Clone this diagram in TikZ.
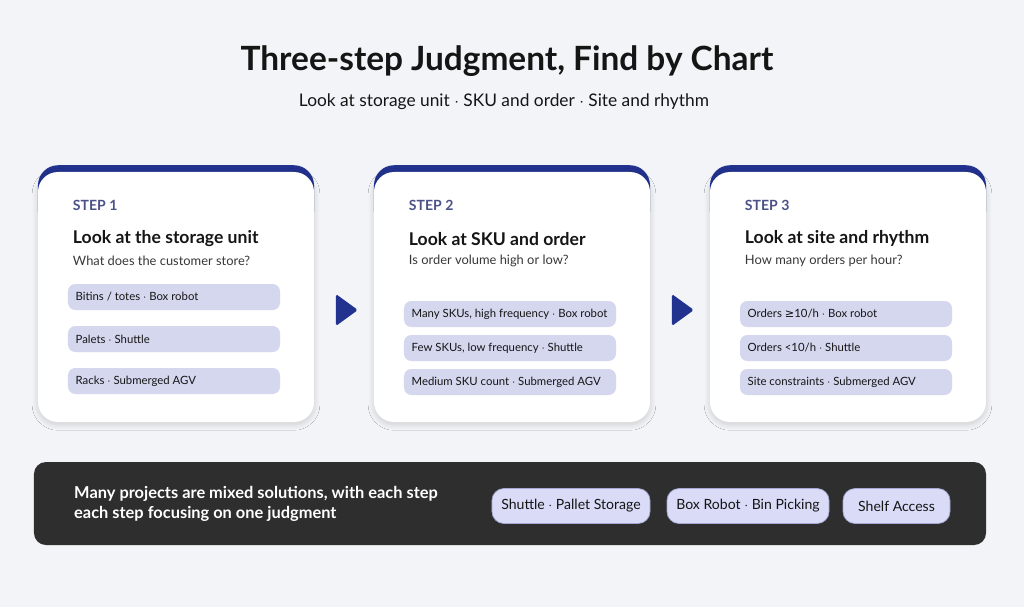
\documentclass[tikz,border=0pt]{standalone}
\usepackage{fontspec}
\setmainfont{Lato}
\newfontfamily\symfont{DejaVu Sans}
\usetikzlibrary{positioning,calc,shapes.geometric,shadows.blur}

\definecolor{pagebg}{HTML}{F3F4F7}
\definecolor{stepblue}{HTML}{22328F}
\definecolor{steplabel}{HTML}{4B5189}
\definecolor{pillfill}{HTML}{D5D7EF}
\definecolor{darkbar}{HTML}{2E2E2E}
\definecolor{chipfill}{HTML}{D9DBF7}
\definecolor{chipline}{HTML}{A3A7D2}
\definecolor{inktext}{HTML}{151515}

\tikzset{
  card/.style={fill=white, rounded corners=0.6cm, minimum width=8.28cm, minimum height=7.5cm,
    blur shadow={shadow xshift=0pt, shadow yshift=-2pt, shadow blur radius=5pt, shadow opacity=16, shadow blur steps=12}},
  accent/.style={fill=stepblue, rounded corners=0.6cm, minimum width=8.28cm, minimum height=2cm, anchor=north},
  steptag/.style={anchor=west, inner sep=0pt, text=steplabel, font=\fontsize{12}{14}\selectfont\bfseries},
  cardtitle/.style={anchor=west, inner sep=0pt, text=inktext, font=\fontsize{15}{18}\selectfont\bfseries},
  cardsub/.style={anchor=west, inner sep=0pt, text=inktext!85, font=\fontsize{11}{13}\selectfont},
  pill/.style={fill=pillfill, rounded corners=0.22cm, minimum height=0.78cm, text width=5.9cm,
    inner xsep=0.23cm, align=flush left, text=inktext, font=\fontsize{9.7}{12}\selectfont},
  nextarrow/.style={isosceles triangle, isosceles triangle apex angle=72, fill=stepblue,
    rounded corners=1.5pt, minimum size=0.66cm, inner sep=0pt},
  chip/.style={fill=chipfill, draw=chipline, line width=0.6pt, rounded corners=0.36cm,
    minimum height=1.05cm, inner xsep=0.28cm, text=inktext, font=\fontsize{12}{14}\selectfont}
}

\begin{document}
\begin{tikzpicture}[x=0.03cm, y=-0.03cm]
  % page
  \fill[pagebg] (0,0) rectangle (1024,607);

  % heading
  \node[font=\fontsize{28.5}{32}\selectfont\bfseries, text=inktext] (title) at (507,61) {Three-step Judgment, Find by Chart};
  \node[font=\fontsize{14.8}{17}\selectfont, text=inktext] (subtitle) at (504,102) {Look at storage unit $\cdot$ SKU and order $\cdot$ Site and rhythm};

  % step cards
  \node[accent] (acc1) at (176,165) {};
  \node[accent] (acc2) at (512,165) {};
  \node[accent] (acc3) at (848,165) {};
  \node[card] (card1) at (176,297) {};
  \node[card] (card2) at (512,297) {};
  \node[card] (card3) at (848,297) {};

  \node[steptag] (tag1) at ($(card1.north west)+(35,34)$) {STEP 1};
  \node[steptag] (tag2) at ($(card2.north west)+(35,34)$) {STEP 2};
  \node[steptag] (tag3) at ($(card3.north west)+(35,34)$) {STEP 3};

  \node[cardtitle] (head1) at ($(card1.north west)+(35,67)$) {Look at the storage unit};
  \node[cardtitle] (head2) at ($(card2.north west)+(35,67)$) {Look at SKU and order};
  \node[cardtitle] (head3) at ($(card3.north west)+(35,67)$) {Look at site and rhythm};

  \node[cardsub] (ask1) at ($(card1.north west)+(35,89)$) {What does the customer store?};
  \node[cardsub] (ask2) at ($(card2.north west)+(35,89)$) {Is order volume high or low?};
  \node[cardsub] (ask3) at ($(card3.north west)+(35,89)$) {How many orders per hour?};

  % options per step
  \node[pill] (opt11) at (174,297) {Bitins / totes $\cdot$ Box robot};
  \node[pill] (opt12) at (174,339) {Palets $\cdot$ Shuttle};
  \node[pill] (opt13) at (174,381) {Racks $\cdot$ Submerged AGV};

  \node[pill] (opt21) at (510,314) {Many SKUs, high frequency $\cdot$ Box robot};
  \node[pill] (opt22) at (510,348) {Few SKUs, low frequency $\cdot$ Shuttle};
  \node[pill] (opt23) at (510,382) {Medium SKU count $\cdot$ Submerged AGV};

  \node[pill] (opt31) at (846,314) {Orders {\symfont ≥}10/h $\cdot$ Box robot};
  \node[pill] (opt32) at (846,348) {Orders <10/h $\cdot$ Shuttle};
  \node[pill] (opt33) at (846,382) {Site constraints $\cdot$ Submerged AGV};

  % arrows between cards
  \node[nextarrow] (go12) at ($($(card1.east)!0.5!(card2.west)$)+(0,13)$) {};
  \node[nextarrow] (go23) at ($($(card2.east)!0.5!(card3.west)$)+(0,13)$) {};

  % summary bar
  \node[fill=darkbar, rounded corners=0.36cm, minimum width=28.56cm, minimum height=2.49cm] (bar) at (510,503.5) {};
  \node[anchor=west, align=left, inner sep=0pt, text=white, font=\fontsize{14}{17}\selectfont\bfseries] (note) at (74,504)
    {Many projects are mixed solutions, with each step\\each step focusing on one judgment};
  \node[chip] (mix1) at (571,506) {Shuttle $\cdot$ Pallet Storage};
  \node[chip] (mix2) at (748,506) {Box Robot $\cdot$ Bin Picking};
  \node[chip, minimum width=3.21cm] (mix3) at (896.5,506) {Shelf Access};
\end{tikzpicture}
\end{document}
